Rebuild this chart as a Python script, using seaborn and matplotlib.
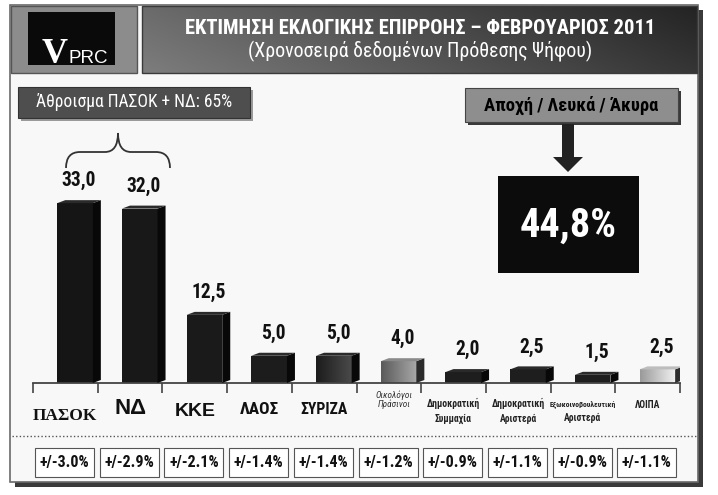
import numpy as np
import pandas as pd
import matplotlib
matplotlib.use("Agg")
import matplotlib.pyplot as plt
import seaborn as sns
from matplotlib.patches import Rectangle, Polygon, PathPatch
from matplotlib.path import Path
from matplotlib import font_manager
import matplotlib.transforms as mtransforms

# ---------------- data ----------------
parties = ["ΠΑΣΟΚ", "ΝΔ", "ΚΚΕ", "ΛΑΟΣ", "ΣΥΡΙΖΑ", "Οικολόγοι Πράσινοι",
           "Δημοκρατική Συμμαχία", "Δημοκρατική Αριστερά",
           "Εξωκοινοβουλευτική Αριστερά", "ΛΟΙΠΑ"]
values = [33.0, 32.0, 12.5, 5.0, 5.0, 4.0, 2.0, 2.5, 1.5, 2.5]
value_labels = ["33,0", "32,0", "12,5", "5,0", "5,0", "4,0", "2,0", "2,5", "1,5", "2,5"]
margins = ["+/-3.0%", "+/-2.9%", "+/-2.1%", "+/-1.4%", "+/-1.4%",
           "+/-1.2%", "+/-0.9%", "+/-1.1%", "+/-0.9%", "+/-1.1%"]
tick_labels = ["ΠΑΣΟΚ", "ΝΔ", "ΚΚΕ", "ΛΑΟΣ", "ΣΥΡΙΖΑ", "Οικολόγοι\nΠράσινοι",
               "Δημοκρατική\nΣυμμαχία", "Δημοκρατική\nΑριστερά",
               "Εξωκοινοβουλευτική\nΑριστερά", "ΛΟΙΠΑ"]
abstention = "44,8%"
title = "ΕΚΤΙΜΗΣΗ ΕΚΛΟΓΙΚΗΣ ΕΠΙΡΡΟΗΣ – ΦΕΒΡΟΥΑΡΙΟΣ 2011"
subtitle = "(Χρονοσειρά δεδομένων Πρόθεσης Ψήφου)"
sum_label = "Άθροισμα ΠΑΣΟΚ + ΝΔ: 65%"
abst_label = "Αποχή / Λευκά / Άκυρα"

bar_colors = ["#151515", "#181818", "#1a1a1a", "#1c1c1c", "#262626",
              "#7a7a7a", "#1e1e1e", "#1e1e1e", "#1e1e1e", "#d0d0d0"]

# ---------------- style ----------------
sns.set_theme(style="white")
installed = {f.name for f in font_manager.fontManager.ttflist}
COND = None
for cand, wf in [("Liberation Sans Narrow", 0.82), ("Roboto Condensed", 0.84),
                 ("Open Sans Condensed", 0.84)]:
    if cand in installed:
        COND, WF = cand, wf
        break
if COND is not None:
    plt.rcParams["font.family"] = [COND, "DejaVu Sans"]
    plt.rcParams["font.stretch"] = "normal"
else:
    plt.rcParams["font.family"] = ["DejaVu Sans"]
    plt.rcParams["font.stretch"] = "condensed"
    WF = 0.97


def fs(arial_size):
    """font size giving the same text width as Arial at arial_size"""
    return arial_size / WF


W, H = 718, 495
fig = plt.figure(figsize=(W / 100, H / 100), dpi=100)
fig.patch.set_facecolor("white")

bg = fig.add_axes([0, 0, 1, 1])
bg.set_xlim(0, W)
bg.set_ylim(H, 0)
bg.axis("off")

# frame with shadow
bg.add_patch(Rectangle((15, 10), 688, 477, fc="#3a3a3a", ec="none", zorder=0))
bg.add_patch(Rectangle((10, 5), 688, 477, fc="#f8f8f8", ec="#6a6a6a", lw=1.2, zorder=0.5))

# logo box
bg.add_patch(Rectangle((11, 6), 126, 67, fc="#8c8c8c", ec="#555555", lw=1, zorder=1))
bg.add_patch(Rectangle((28, 12), 87, 53, fc="#0a0a0a", ec="none", zorder=1.2))
bg.text(55, 63, "V", color="white", fontsize=26, fontweight="bold",
        family=["Liberation Serif", "DejaVu Serif"], fontstretch="normal",
        ha="center", va="baseline", zorder=2)
bg.text(88, 63, "PRC", color="white", fontsize=13.5, fontstretch="normal",
        family=["Liberation Sans", "DejaVu Sans"], ha="center", va="baseline", zorder=2)

# title box with gradient
xs = np.linspace(0, 1, 200)
ys = np.linspace(0, 1, 40)
g = np.clip(0.42 - 0.28 * xs[None, :] + 0.07 * ys[:, None], 0, 1)
bg.imshow(np.dstack([g, g, g]), extent=(142, 697, 73, 6), aspect="auto",
          interpolation="bilinear", zorder=1)
bg.add_patch(Rectangle((142, 6), 555, 67, fc="none", ec="#3a3a3a", lw=1, zorder=1.5))
bg.text(420, 29, title, color="white", fontsize=fs(12.4), fontweight="bold",
        ha="center", va="center", zorder=2)
bg.text(420, 51, subtitle, color="white", fontsize=fs(12.0),
        ha="center", va="center", zorder=2)

# sum box
bg.add_patch(Rectangle((21, 90), 232, 31, fc="#9a9a9a", ec="none", zorder=1))
bg.add_patch(Rectangle((18, 87), 232, 31, fc="#4e4e4e", ec="#333333", lw=0.8, zorder=1.2))
bg.text(134, 102, sum_label, color="white", fontsize=fs(10.6),
        ha="center", va="center", zorder=2)

# abstention box
bg.add_patch(Rectangle((468, 91), 213, 34, fc="#3a3a3a", ec="none", zorder=1))
bg.add_patch(Rectangle((465, 88), 213, 34, fc="#8e8e8e", ec="#444444", lw=0.8, zorder=1.2))
bg.text(571, 105, abst_label, color="black", fontsize=fs(11.3), fontweight="bold",
        ha="center", va="center", zorder=2)

# arrow
bg.add_patch(Polygon([(562, 124), (574, 124), (574, 157), (583, 157), (568, 172),
                      (553, 157), (562, 157)], closed=True, fc="#222222", ec="none", zorder=2))

# 44,8% box
bg.add_patch(Rectangle((498, 176), 141, 97, fc="#0c0c0c", ec="none", zorder=1))
bg.text(568, 226, abstention, color="white", fontsize=fs(24.4), fontweight="bold",
        ha="center", va="center", zorder=2)

# brace over PASOK + ND
verts = [(66, 168), (66, 152), (80, 152), (105, 152), (118, 152), (118, 133),
         (118, 152), (131, 152), (156, 152), (170, 152), (170, 168)]
codes = [Path.MOVETO, Path.CURVE3, Path.CURVE3, Path.LINETO, Path.CURVE3, Path.CURVE3,
         Path.CURVE3, Path.CURVE3, Path.LINETO, Path.CURVE3, Path.CURVE3]
bg.add_patch(PathPatch(Path(verts, codes), fc="none", ec="#333333", lw=1.3, zorder=2))

# dotted separator
bg.plot([12, 697], [436, 436], ls=(0, (1, 1.6)), color="#555555", lw=1.0, zorder=2)

# ---------------- bar axes ----------------
BASE = 383
PXY = 5.45
AX_H = 253
ax = fig.add_axes([33 / W, (H - BASE) / H, 647 / W, AX_H / H])
ax.patch.set_alpha(0)
ax.set_zorder(3)

df = pd.DataFrame({"party": parties, "value": values})
sns.barplot(data=df, x="party", y="value", hue="party", order=parties,
            hue_order=parties, palette=bar_colors, width=0.55, saturation=1,
            legend=False, ax=ax, edgecolor="none", linewidth=0)

bars = sorted(list(ax.patches), key=lambda p: p.get_x())
PXX = 64.7
dx = 8 / PXX
dy = 3 / PXY

grad = {4: ("#1c1c1c", "#4a4a4a"), 5: ("#5a5a5a", "#a8a8a8"), 9: ("#9a9a9a", "#f2f2f2")}
tops = {5: "#8a8a8a", 9: "#bdbdbd"}
sides = {9: "#2e2e2e", 5: "#2a2a2a"}


def hex2rgb(h):
    h = h.lstrip("#")
    return np.array([int(h[i:i + 2], 16) / 255 for i in (0, 2, 4)])


for i, b in enumerate(bars):
    x, w, h = b.get_x(), b.get_width(), b.get_height()
    if i in grad:
        c0, c1 = hex2rgb(grad[i][0]), hex2rgb(grad[i][1])
        t = np.linspace(0, 1, 64)
        img = c0[None, None, :] * (1 - t)[None, :, None] + c1[None, None, :] * t[None, :, None]
        img = np.repeat(img, 8, axis=0)
        im = ax.imshow(img, extent=(x, x + w, 0, h), aspect="auto",
                       interpolation="bilinear", zorder=2.5, origin="lower")
        im.set_clip_path(b)
    ax.add_patch(Polygon([(x + w, 0), (x + w + dx, dy), (x + w + dx, h + dy), (x + w, h)],
                         closed=True, fc=sides.get(i, "#080808"), ec="none", zorder=2.6))
    ax.add_patch(Polygon([(x, h), (x + dx, h + dy), (x + w + dx, h + dy), (x + w, h)],
                         closed=True, fc=tops.get(i, "#2a2a2a"), ec="none", zorder=2.6))
    ax.annotate(value_labels[i], (x + w / 2 + dx / 2, h + dy), xytext=(0, 7),
                textcoords="offset points", ha="center", va="bottom",
                fontsize=fs(11.8), fontweight="bold", color="#111111")

n = len(parties)
OFF = 0.65
ax.set_xlim(-OFF, n - OFF)
ax.set_ylim(0, AX_H / PXY)
boundaries = [-OFF + k for k in range(n + 1)]
ax.set_xticks(boundaries)
ax.set_xticklabels([])
ax.set_yticks([])
ax.set_xlabel("")
ax.set_ylabel("")
for s in ["top", "right", "left"]:
    ax.spines[s].set_visible(False)
ax.spines["bottom"].set_color("#444444")
ax.spines["bottom"].set_linewidth(1.3)
ax.tick_params(axis="x", which="major", direction="out", length=7, width=1.2,
               color="#444444", bottom=True)

trans = mtransforms.blended_transform_factory(ax.transData, ax.transAxes)


def fy(p):
    return (BASE - p) / AX_H


centers = [i - 0.15 for i in range(n)]
SERIF = ["Liberation Serif", "DejaVu Serif"]
HEAVY = ["Liberation Sans", "DejaVu Sans"]
# (family, size, stretch, y-pixel)
big_fonts = {0: (SERIF, 12.5, "normal", 416), 1: (HEAVY, 16, "normal", 409),
             2: (HEAVY, 14, "normal", 412), 3: (None, fs(10.5), None, 410),
             4: (None, fs(9.5), None, 410)}
small_kw = dict(transform=trans, ha="center", va="center", fontweight="bold",
                color="#222222", clip_on=False)
for i, lab in enumerate(tick_labels):
    if i in big_fonts:
        fam, size, stretch, ypix = big_fonts[i]
        kw = {}
        if fam is not None:
            kw["family"] = fam
        if stretch is not None:
            kw["fontstretch"] = stretch
        ax.text(centers[i], fy(ypix), lab, transform=trans, ha="center", va="center",
                fontsize=size, fontweight="bold", color="#111111", clip_on=False, **kw)
    elif i == 5:
        ax.text(centers[i] + 0.08, fy(400), lab, transform=trans, ha="center", va="center",
                fontsize=fs(5.6), style="italic", color="#333333", linespacing=0.95,
                clip_on=False)
    elif i == 9:
        ax.text(centers[i], fy(405), lab, fontsize=fs(5.8), **small_kw)
    elif i == 8:
        first, second = lab.split("\n")
        ax.text(centers[i], fy(405), first, fontsize=fs(5.8) * 0.8, **small_kw)
        ax.text(centers[i], fy(418), second, fontsize=fs(5.8), **small_kw)
    else:
        ax.text(centers[i], fy(411), lab, fontsize=fs(5.8), linespacing=1.6, **small_kw)

# margin-of-error boxes
for k in range(n):
    b0 = boundaries[k]
    ax.add_patch(Rectangle((b0 + 2 / PXX, fy(477)), 59 / PXX, fy(448) - fy(477),
                           transform=trans, fc="white", ec="#555555", lw=0.8, clip_on=False))
    ax.text(b0 + 31.5 / PXX, fy(462), margins[k], transform=trans, ha="center",
            va="center", fontsize=fs(9.7), fontweight="semibold", color="#111111",
            clip_on=False)

fig.savefig("out.png", dpi=100, facecolor="white")
